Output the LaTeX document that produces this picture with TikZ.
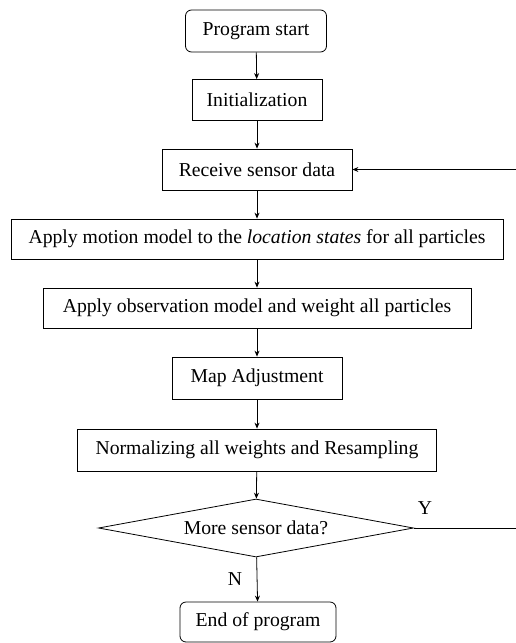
\documentclass[tikz,border=0pt]{standalone}
\usepackage{fontspec}
\setmainfont{Liberation Serif}
\usetikzlibrary{shapes.geometric,arrows.meta}
\begin{document}
\begin{tikzpicture}[x=1pt,y=-1pt,
  every node/.style={font=\fontsize{19.7}{23}\selectfont},
  box/.style={draw,line width=0.8pt,inner sep=0pt,minimum height=41pt},
  rbox/.style={box,rounded corners=6pt},
  dec/.style={draw,line width=0.8pt,diamond,aspect=5.4,inner sep=0pt,minimum width=315pt,minimum height=58pt},
  conn/.style={line width=0.8pt,-{Stealth[length=6pt,width=5pt]}},
  lbl/.style={inner sep=0pt}]
\useasboundingbox (0,0) rectangle (516,643);
\node[rbox,minimum width=141pt,minimum height=42pt] (start) at (256,31) {Program start};
\node[box,minimum width=130pt] (init) at (257,100) {Initialization};
\node[box,minimum width=190pt] (recv) at (257,169.5) {Receive sensor data};
\node[box,minimum width=492pt,minimum height=40pt] (motion) at (257,239) {Apply motion model to the \textit{location states} for all particles};
\node[box,minimum width=428pt,minimum height=40pt] (obs) at (257,308) {Apply observation model and weight all particles};
\node[box,minimum width=170pt,minimum height=42pt] (map) at (257,378) {Map Adjustment};
\node[box,minimum width=359pt,minimum height=42pt] (norm) at (257,450) {Normalizing all weights and Resampling};
\node[dec] (more) at (256,528) {More sensor data?};
\node[rbox,minimum width=156pt,minimum height=40pt] (end) at (258,622) {End of program};
\node[lbl] (y) at (425,508) {Y};
\node[lbl] (n) at (235,579) {N};
\coordinate (c1) at (517,528);
\coordinate (c2) at (517,169.5);
\draw[conn] (start) -- (init);
\draw[conn] (init) -- (recv);
\draw[conn] (recv) -- (motion);
\draw[conn] (motion) -- (obs);
\draw[conn] (obs) -- (map);
\draw[conn] (map) -- (norm);
\draw[conn] (norm) -- (more);
\draw[conn] (more) -- (end);
\draw[conn] (more.east) -- (c1) -- (c2) -- (recv.east);
\end{tikzpicture}
\end{document}
